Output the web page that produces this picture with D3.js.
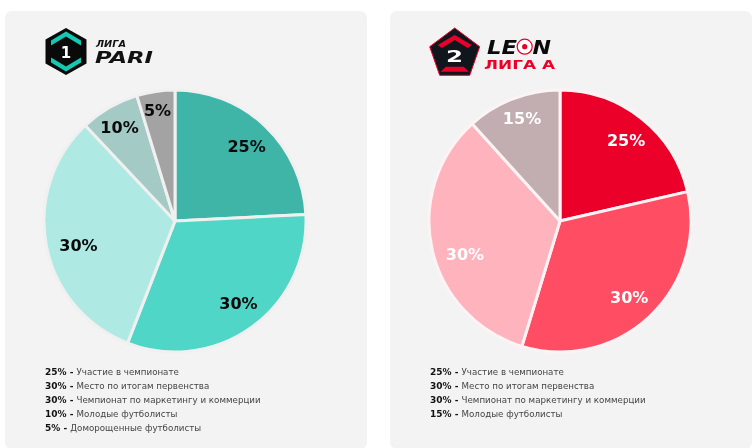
<!DOCTYPE html>
<html lang="ru">
<head>
<meta charset="utf-8">
<script src="https://cdn.jsdelivr.net/npm/d3@7"></script>
<style>
html,body{margin:0;padding:0;background:#fff;overflow:hidden}
svg{display:block}
text{font-family:"DejaVu Sans",sans-serif;filter:blur(.25px)}
</style>
</head>
<body>
<svg id="chart" width="756" height="448"></svg>
<script>
const leagueOneShares = [24.2, 31.7, 32.1, 7.3, 4.7];
const leagueOneLabels = ["25%", "30%", "30%", "10%", "5%"];
const leagueOneNames = ["Участие в чемпионате", "Место по итогам первенства", "Чемпионат по маркетингу и коммерции", "Молодые футболисты", "Доморощенные футболисты"];
const leagueOneColors = ["#3fb5a8", "#50d6c6", "#aeeae3", "#a3cac4", "#a3a3a3"];

const leagueTwoShares = [21.4, 33.3, 33.6, 11.7];
const leagueTwoLabels = ["25%", "30%", "30%", "15%"];
const leagueTwoNames = ["Участие в чемпионате", "Место по итогам первенства", "Чемпионат по маркетингу и коммерции", "Молодые футболисты"];
const leagueTwoColors = ["#ea0029", "#ff4d63", "#ffb3bd", "#c2adb0"];

const svg = d3.select("#chart");
const R = 131;
const rad = d3.scaleLinear().domain([0, 360]).range([0, 2 * Math.PI]);

function panel(x, w) {
  svg.append("rect").attr("x", x).attr("y", 11).attr("width", w).attr("height", 438)
    .attr("rx", 7).attr("fill", "#f3f3f3");
}

function pie(cx, cy, shares, labels, colors, gapColor, gapWidth, labelColor, labelPolar) {
  const g = svg.append("g").attr("transform", `translate(${cx},${cy})`);
  const arcs = d3.pie().sort(null).value(d => d)(shares);
  const arc = d3.arc().innerRadius(0).outerRadius(R);
  g.selectAll("path").data(arcs).join("path")
    .attr("d", arc)
    .attr("fill", (d, i) => colors[i])
    .attr("stroke", gapColor)
    .attr("stroke-width", gapWidth)
    .attr("stroke-linejoin", "round");
  g.selectAll("text").data(arcs).join("text")
    .attr("transform", (d, i) => {
      const [x, y] = d3.pointRadial(rad(labelPolar[i][0]), labelPolar[i][1]);
      return `translate(${x},${y})`;
    })
    .attr("text-anchor", "middle")
    .attr("dominant-baseline", "central")
    .attr("font-size", 16)
    .attr("font-weight", 700)
    .attr("fill", labelColor)
    .text((d, i) => labels[i]);
}

function legend(x, labels, names) {
  const y = d3.scalePoint().domain(d3.range(5)).range([372, 428]);
  const t = svg.append("g").selectAll("text").data(labels).join("text")
    .attr("x", x).attr("y", (d, i) => y(i))
    .attr("dominant-baseline", "central")
    .attr("fill", "#444");
  t.append("tspan").attr("font-size", 9).attr("font-weight", 700).attr("fill", "#111").text(d => d + " - ");
  t.append("tspan").attr("font-size", 8.7).text((d, i) => names[i]);
}

function fitted(x, y, size, len, color, italic, str) {
  return svg.append("text").attr("x", x).attr("y", y).attr("font-size", size).attr("font-weight", 700)
    .attr("font-style", italic ? "italic" : "normal").attr("fill", color)
    .attr("textLength", len).attr("lengthAdjust", "spacingAndGlyphs").text(str);
}

function logoOne() {
  const g = svg.append("g").attr("transform", "translate(66,51.5)");
  g.append("path").attr("d", "M0,-23.5L20.5,-12V12L0,23.5L-20.5,12V-12Z").attr("fill", "#0a0a0a");
  g.append("path").attr("d", "M0,-20L15,-11V-6L0,-15L-15,-6V-11Z").attr("fill", "#14c8b4");
  g.append("path").attr("d", "M0,20L15,11V6L0,15L-15,6V11Z").attr("fill", "#14c8b4");
  g.append("text").attr("text-anchor", "middle").attr("y", 6.5).attr("font-size", 15).attr("font-weight", 700).attr("fill", "#fff").text("1");
  fitted(96, 46.5, 8, 30, "#111", true, "ЛИГА");
  fitted(95, 63, 15.5, 58, "#111", true, "PARI");
}

function logoTwo() {
  const g = svg.append("g").attr("transform", "translate(454.7,28)");
  g.append("path").attr("d", "M0,0L25,18.7L15,47.3H-15L-25,18.7Z").attr("fill", "#10161c").attr("stroke", "#ea0029").attr("stroke-width", 1);
  g.append("path").attr("d", "M0,7L17,17L13,20L0,12L-13,20L-17,17Z").attr("fill", "#ea0029");
  g.append("path").attr("d", "M-9,38.7H9L14,43.7H-14Z").attr("fill", "#ea0029");
  svg.append("text").attr("x", 446).attr("y", 61.7).attr("font-size", 16).attr("font-weight", 700).attr("fill", "#fff")
    .attr("textLength", 17).attr("lengthAdjust", "spacingAndGlyphs").text("2");
  fitted(487, 54, 19.5, 30, "#0a0a0a", true, "LE");
  svg.append("circle").attr("cx", 524.7).attr("cy", 46.7).attr("r", 7.5).attr("fill", "#fff").attr("stroke", "#ea0029").attr("stroke-width", 1.2);
  svg.append("circle").attr("cx", 524.7).attr("cy", 46.7).attr("r", 2.6).attr("fill", "#ea0029");
  fitted(532.5, 54, 19.5, 18.5, "#0a0a0a", true, "N");
  fitted(484, 69, 11.5, 71, "#ea0029", false, "ЛИГА А");
}

panel(5, 362);
panel(390, 362);
logoOne();
logoTwo();
pie(175, 221, leagueOneShares, leagueOneLabels, leagueOneColors, "#f0f0f0", 3, "#0a0a0a",
  [[44, 103], [142.6, 104.4], [255.5, 99.7], [329.4, 109], [351, 112]]);
pie(560, 221, leagueTwoShares, leagueTwoLabels, leagueTwoColors, "#fbf3f4", 3, "#fff",
  [[39.2, 104.5], [138, 103.4], [250.8, 100.6], [339.6, 109]]);
legend(45, leagueOneLabels, leagueOneNames);
legend(430, leagueTwoLabels, leagueTwoNames);
</script>
</body>
</html>
